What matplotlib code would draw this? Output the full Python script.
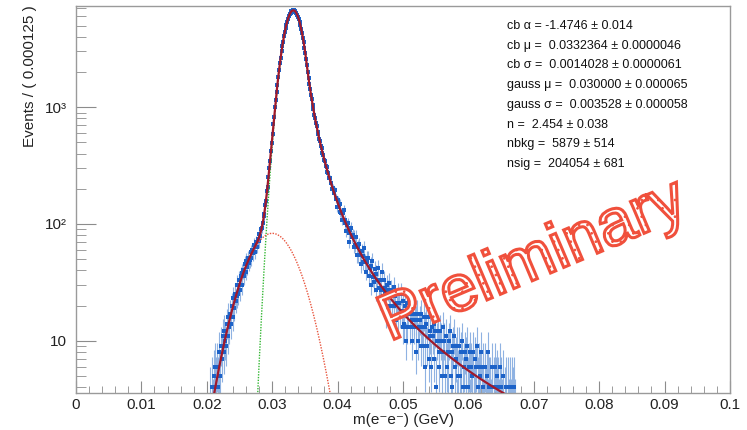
import numpy as np
import matplotlib
matplotlib.use('Agg')
import matplotlib.pyplot as plt
from matplotlib import patheffects as pe
from matplotlib.ticker import FixedLocator, FixedFormatter, NullFormatter

plt.rcParams['font.family'] = ['Liberation Sans', 'DejaVu Sans']
plt.rcParams['hatch.linewidth'] = 0.7

# histogram: bin width 0.000125, first shown bin starts at 0.0205
bin_width = 0.000125
first_edge = 0.0205
counts = [
    3, 1, 4, 2, 5, 3, 6, 4,
    6, 4, 5, 8, 5, 9, 7, 11,
    8, 12, 10, 9, 14, 11, 16, 13,
    17, 14, 20, 16, 23, 19, 25, 22,
    24, 30, 25, 33, 27, 36, 30, 38,
    40, 36, 45, 39, 48, 43, 51, 46,
    49, 57, 51, 60, 56, 66, 58, 63,
    70, 64, 74, 71, 82, 79, 91, 93,
    101, 116, 122, 144, 158, 190, 207, 252,
    301, 347, 425, 497, 590, 712, 829, 1003,
    1148, 1362, 1551, 1830, 2069, 2374, 2641, 3021,
    3352, 3641, 4030, 4389, 4771, 5034, 5396, 5702,
    6011, 6290, 6437, 6625, 6689, 6771, 6734, 6702,
    6549, 6433, 6188, 5972, 5651, 5381, 5010, 4695,
    4338, 3941, 3612, 3229, 2915, 2561, 2280, 1986,
    1792, 1581, 1440, 1265, 1170, 1041, 969, 861,
    812, 726, 694, 617, 590, 531, 514, 463,
    447, 404, 391, 356, 346, 313, 309, 279,
    274, 248, 247, 223, 222, 201, 203, 183,
    194, 165, 167, 139, 159, 144, 126, 149,
    124, 109, 123, 132, 101, 108, 87, 98,
    101, 84, 70, 88, 93, 77, 81, 64,
    78, 66, 78, 54, 64, 54, 67, 54,
    45, 59, 53, 47, 62, 47, 39, 51,
    47, 51, 36, 42, 30, 44, 48, 35,
    32, 41, 37, 27, 33, 42, 28, 23,
    33, 27, 39, 24, 33, 26, 28, 17,
    30, 27, 20, 31, 20, 27, 16, 24,
    29, 20, 24, 15, 21, 25, 16, 21,
    17, 25, 18, 13, 22, 14, 20, 10,
    21, 13, 17, 22, 13, 17, 10, 15,
    19, 13, 17, 8, 15, 17, 10, 13,
    15, 17, 9, 13, 9, 16, 13, 6,
    14, 9, 16, 7, 11, 12, 6, 13,
    11, 14, 7, 12, 4, 10, 12, 8,
    6, 12, 10, 5, 13, 8, 10, 5,
    11, 6, 8, 3, 10, 12, 5, 8,
    4, 9, 11, 6, 7, 2, 9, 5,
    9, 5, 8, 3, 10, 4, 6, 8,
    4, 7, 9, 4, 6, 2, 8, 6,
    5, 8, 3, 7, 2, 6, 9, 4,
    6, 2, 5, 8, 3, 4, 6, 2,
    6, 3, 5, 2, 8, 4, 4, 2,
    3, 6, 1, 4, 6, 4, 2, 5,
    4, 2, 6, 3, 4, 2, 5, 1,
    3, 4, 2, 1, 4, 2, 3, 4,
    2, 4, 3, 4, 1, 2, 0, 1,
]

# fit result (crystal ball signal + gaussian background)
cb_alpha = -1.4746
cb_mu = 0.0332364
cb_sigma = 0.0014028
cb_n = 2.454
gauss_mu = 0.030000
gauss_sigma = 0.003528
nbkg = 5879
nsig = 204054

fit_lines = [
    'cb \u03b1 = -1.4746 \u00b1 0.014',
    'cb \u03bc =  0.0332364 \u00b1 0.0000046',
    'cb \u03c3 =  0.0014028 \u00b1 0.0000061',
    'gauss \u03bc =  0.030000 \u00b1 0.000065',
    'gauss \u03c3 =  0.003528 \u00b1 0.000058',
    'n =  2.454 \u00b1 0.038',
    'nbkg =  5879 \u00b1 514',
    'nsig =  204054 \u00b1 681',
]

x_ticks = [0, 0.01, 0.02, 0.03, 0.04, 0.05, 0.06, 0.07, 0.08, 0.09, 0.1]
x_ticklabels = ['0', '0.01', '0.02', '0.03', '0.04', '0.05', '0.06', '0.07', '0.08', '0.09', '0.1']
y_ticks = [10, 100, 1000]
y_ticklabels = ['10', '10\u00b2', '10\u00b3']


def crystal_ball(x):
    t = (x - cb_mu) / cb_sigma
    if cb_alpha < 0:
        t = -t
    a = abs(cb_alpha)
    A = (cb_n / a) ** cb_n * np.exp(-0.5 * a * a)
    B = cb_n / a - a
    out = np.exp(-0.5 * t * t)
    tail = t <= -a
    out[tail] = A * (B - t[tail]) ** (-cb_n)
    return out


def gauss(x):
    return np.exp(-0.5 * ((x - gauss_mu) / gauss_sigma) ** 2)


# data with poisson errors
n = np.array(counts, dtype=float)
centers = first_edge + (np.arange(len(n)) + 0.5) * bin_width
keep = n > 0
n = n[keep]
centers = centers[keep]
err_lo = n - n * (1 - 1 / (9 * n) - 1 / (3 * np.sqrt(n))) ** 3
err_hi = 1 + np.sqrt(n + 0.75)

# fit curves, scaled to events per bin
xs = np.linspace(0, 0.1, 8001)
sig = crystal_ball(xs)
sig = nsig * bin_width * sig / np.trapezoid(sig, xs)
bkg = gauss(xs)
bkg = nbkg * bin_width * bkg / np.trapezoid(bkg, xs)
total = sig + bkg

fig = plt.figure(figsize=(7.47, 4.30), dpi=100)
ax = fig.add_axes([0.1017, 0.0872, 0.8755, 0.8988])

ax.errorbar(centers, n, yerr=[err_lo, err_hi], fmt='s', color='#1c62c8',
            ecolor='#8fb2e2', elinewidth=0.8, capsize=1.0, markersize=2.8,
            markeredgewidth=0, zorder=2)
ax.plot(xs, sig, color='#35b835', ls=(0, (1, 1)), lw=1.0, zorder=3)
ax.plot(xs, bkg, color='#e8553e', ls=(0, (1, 1)), lw=1.0, zorder=3)
ax.plot(xs, total, color='#a0192c', lw=1.6, zorder=4)

ax.set_yscale('log')
ax.set_xlim(0, 0.1)
ax.set_ylim(3.6, 7350)

ax.xaxis.set_major_locator(FixedLocator(x_ticks))
ax.xaxis.set_major_formatter(FixedFormatter(x_ticklabels))
ax.xaxis.set_minor_locator(FixedLocator(np.arange(0, 0.1001, 0.002)))
ax.yaxis.set_major_locator(FixedLocator(y_ticks))
ax.yaxis.set_major_formatter(FixedFormatter(y_ticklabels))
y_minor = [m * d for d in (1, 10, 100, 1000) for m in range(2, 10)]
ax.yaxis.set_minor_locator(FixedLocator(y_minor))
ax.yaxis.set_minor_formatter(NullFormatter())

ax.tick_params(which='both', direction='in', top=False, right=False,
               color='#8c8c8c', labelcolor='#222222', labelsize=11)
ax.tick_params(axis='x', which='major', length=8.5, pad=4)
ax.tick_params(axis='x', which='minor', length=5)
ax.tick_params(axis='y', which='major', length=14.5, pad=6.5)
ax.tick_params(axis='y', which='minor', length=7.5)
for s in ax.spines.values():
    s.set_color('#9a9a9a')
    s.set_linewidth(1.0)

fig.text(403 / 747, 1 - 420 / 430, 'm(e\u207be\u207b) (GeV)', fontsize=11,
         ha='center', va='center', color='#222222')
fig.text(30 / 747, 1 - 5 / 430, 'Events / ( 0.000125 )', fontsize=11,
         rotation=90, ha='center', va='top', color='#222222')

for i, line in enumerate(fit_lines):
    fig.text(507 / 747, 1 - (26 + 19.7 * i) / 430, line, fontsize=9,
             ha='left', va='center', color='#111111')

fig.text(533 / 747, 1 - 262 / 430, 'Preliminary', fontsize=47, rotation=23,
         rotation_mode='anchor', ha='center', va='center', zorder=10,
         path_effects=[pe.PathPatchEffect(facecolor='white', edgecolor='#f0503c',
                                          linewidth=2.2, hatch='..')])

fig.savefig('out.png', dpi=100)
